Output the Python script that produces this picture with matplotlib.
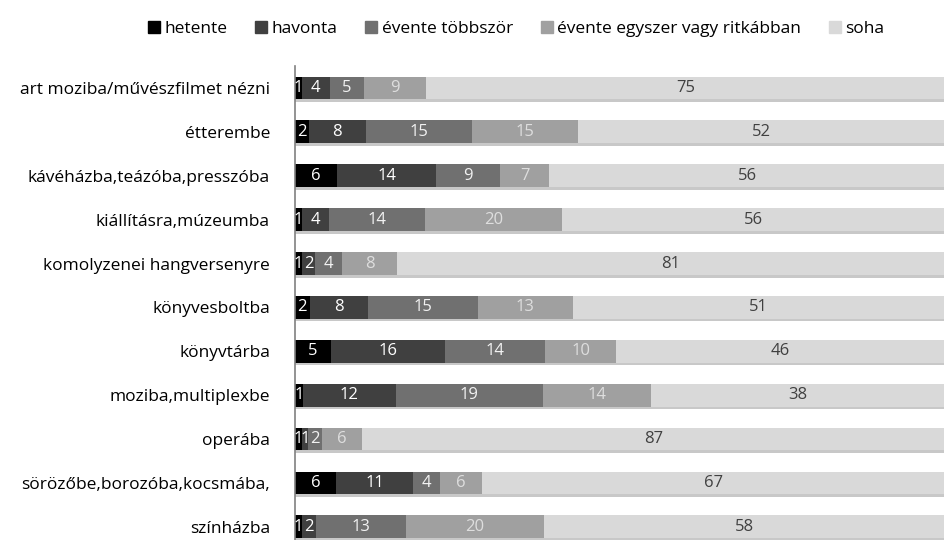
import numpy as np
import matplotlib
matplotlib.use('Agg')
import matplotlib.pyplot as plt
from matplotlib.patches import Patch

plt.rcParams['font.family'] = ['Open Sans', 'DejaVu Sans']

categories = [
    "art moziba/művészfilmet nézni",
    "étterembe",
    "kávéházba,teázóba,presszóba",
    "kiállításra,múzeumba",
    "komolyzenei hangversenyre",
    "könyvesboltba",
    "könyvtárba",
    "moziba,multiplexbe",
    "operába",
    "sörözőbe,borozóba,kocsmába,",
    "színházba",
]
series_names = ["hetente", "havonta", "évente többször",
                "évente egyszer vagy ritkábban", "soha"]
hetente = [1, 2, 6, 1, 1, 2, 5, 1, 1, 6, 1]
havonta = [4, 8, 14, 4, 2, 8, 16, 12, 1, 11, 2]
evente_tobb = [5, 15, 9, 14, 4, 15, 14, 19, 2, 4, 13]
evente_egy = [9, 15, 7, 20, 8, 13, 10, 14, 6, 6, 20]
soha = [75, 52, 56, 56, 81, 51, 46, 38, 87, 67, 58]

colors = ["#000000", "#404040", "#707070", "#a0a0a0", "#d9d9d9"]
text_colors = ["white", "white", "#f2f2f2", "#dedede", "#404040"]

data = np.array([hetente, havonta, evente_tobb, evente_egy, soha], dtype=float)
shares = data / data.sum(axis=0)

fig = plt.figure(figsize=(9.45, 5.4), dpi=100)
ax = fig.add_axes([295 / 945, 0, 1 - 295 / 945, 474 / 540])

y = np.arange(len(categories))
bar_h = 0.52

# árnyék a sávok alatt
ax.barh(y + bar_h / 2 + 0.03, 1.0, height=0.06, color="#c8c8c8", zorder=1)

left = np.zeros(len(categories))
for i, name in enumerate(series_names):
    ax.barh(y, shares[i], left=left, height=bar_h, color=colors[i],
            label=name, zorder=2)
    for j in range(len(categories)):
        ax.text(left[j] + shares[i][j] / 2, y[j], f"{int(data[i][j])}",
                ha="center", va="center", fontsize=12,
                color=text_colors[i], zorder=3)
    left += shares[i]

ax.set_xlim(0, 1)
ax.set_ylim(10.3, -0.5)
ax.set_yticks(y)
ax.set_yticklabels(categories, fontsize=12.5, color="#000000")
ax.tick_params(axis="y", length=0, pad=18)
ax.set_xticks([])
for s in ["top", "right", "bottom"]:
    ax.spines[s].set_visible(False)
ax.spines["left"].set_color("#808080")
ax.spines["left"].set_linewidth(1.2)

handles = [Patch(color=c, label=n) for c, n in zip(colors, series_names)]
fig.legend(handles=handles, loc="upper center", bbox_to_anchor=(0.546, 0.99),
           ncol=5, frameon=False, fontsize=12.5, handlelength=0.7,
           handleheight=0.7, handletextpad=0.25, columnspacing=1.6)

fig.savefig("out.png", dpi=100)
